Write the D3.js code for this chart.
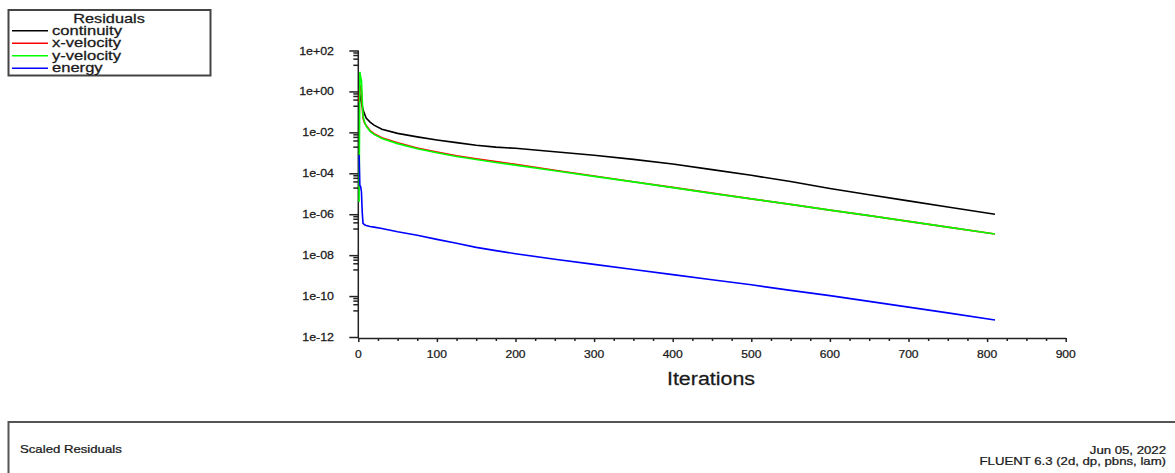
<!DOCTYPE html>
<html>
<head>
<meta charset="utf-8">
<script src="https://cdn.jsdelivr.net/npm/d3@7"></script>
<style>
  body{margin:0;background:#fff;}
  svg{display:block;font-family:"Liberation Sans",Arial,sans-serif;}
</style>
</head>
<body>
<div id="chart"></div>
<script>
// residual histories (log10 of the scaled residual)
const iters=[1,2,3,4,5,6,8,10,15,20,30,50,75,100,125,150,175,200,250,300,350,400,450,500,550,600,650,700,750,810];
const continuity=[0.0,-0.2,-0.4,-0.55,-0.7,-0.9,-1.1,-1.3,-1.5,-1.65,-1.85,-2.05,-2.22,-2.37,-2.5,-2.63,-2.72,-2.78,-2.95,-3.12,-3.32,-3.55,-3.82,-4.1,-4.4,-4.74,-5.05,-5.35,-5.65,-6.0];
const xVelocity=[-0.5,0.3,0.2,0.0,-0.8,-1.3,-1.55,-1.66,-1.91,-2.06,-2.26,-2.51,-2.76,-2.96,-3.14,-3.29,-3.43,-3.56,-3.85,-4.13,-4.41,-4.69,-4.97,-5.25,-5.52,-5.8,-6.07,-6.35,-6.63,-6.97];
const yVelocity=[-5.4,0.95,0.7,0.55,-0.4,-1.2,-1.5,-1.7,-1.95,-2.1,-2.3,-2.55,-2.8,-3.0,-3.18,-3.33,-3.47,-3.6,-3.88,-4.15,-4.42,-4.7,-4.98,-5.25,-5.52,-5.8,-6.07,-6.35,-6.63,-6.97];
const energy=[-3.1,-4.6,-4.65,-4.9,-5.9,-6.45,-6.52,-6.55,-6.6,-6.63,-6.7,-6.86,-7.03,-7.23,-7.42,-7.62,-7.78,-7.93,-8.2,-8.45,-8.7,-8.95,-9.2,-9.45,-9.72,-9.98,-10.26,-10.54,-10.82,-11.17];

const seriesNames=["continuity","x-velocity","y-velocity","energy"];
const seriesColors=["#000000","#ff0000","#00ff00","#0000ff"];
const seriesValues=[continuity,xVelocity,yVelocity,energy];

const yTicks=[1e2,1e0,1e-2,1e-4,1e-6,1e-8,1e-10,1e-12];
const xTicks=[0,100,200,300,400,500,600,700,800,900];

const width=1175,height=473;

const svg=d3.select("#chart").append("svg")
    .attr("width",width)
    .attr("height",height);

const x=d3.scaleLinear().domain([0,900]).range([358.3,1065.7]);
const y=d3.scaleLog().domain([1e-12,1e2]).range([337,50.5]);

// text is drawn a bit wider than the font, like the original
function label(g,px,py,txt,size,k,anchor){
    return g.append("text")
        .attr("transform",`translate(${px},${py}) scale(${k},1)`)
        .attr("text-anchor",anchor||"start")
        .attr("font-size",size)
        .attr("fill","#1a1a1a")
        .attr("stroke","#1a1a1a")
        .attr("stroke-width",0.25)
        .text(txt);
}

function fmtExp(v){
    const e=Math.round(Math.log10(v));
    return "1e"+(e<0?"-":"+")+String(Math.abs(e)).padStart(2,"0");
}

// y axis
const minorY=[];
yTicks.forEach(v=>{
    if(v>1e-12) [0.8,0.6,0.4,0.2].forEach(m=>minorY.push(v*m));
});
svg.append("g")
    .attr("transform",`translate(${x(0)},0)`)
    .call(d3.axisLeft(y).tickValues(minorY).tickSize(5).tickSizeOuter(0).tickFormat(""))
    .call(g=>g.select(".domain").remove());
const yAxis=svg.append("g")
    .attr("transform",`translate(${x(0)},0)`)
    .call(d3.axisLeft(y).tickValues(yTicks).tickSize(9).tickSizeOuter(0).tickFormat(""));
yAxis.select(".domain").attr("d",`M0,${y(1e2)}V${y(1e-12)+1}`);
yTicks.forEach(v=>label(svg,334,y(v)+4,fmtExp(v),11,1.13,"end"));

// x axis
const minorX=d3.range(0,901,25).filter(d=>d%100!==0);
svg.append("g")
    .attr("transform",`translate(0,${y(1e-12)+1})`)
    .call(d3.axisBottom(x).tickValues(minorX).tickSize(3).tickSizeOuter(0).tickFormat(""))
    .call(g=>g.select(".domain").remove());
svg.append("g")
    .attr("transform",`translate(0,${y(1e-12)+1})`)
    .call(d3.axisBottom(x).tickValues(xTicks).tickSize(4).tickSizeOuter(0).tickFormat(""));
xTicks.forEach(v=>label(svg,x(v),358,String(v),11,1.1,"middle"));

svg.selectAll(".domain,.tick line")
    .attr("stroke","#222")
    .attr("stroke-width",1.5);

label(svg,711,385,"Iterations",18,1.19,"middle");

// residual lines
const line=d3.line()
    .x((d,i)=>x(iters[i]))
    .y(d=>y(Math.pow(10,d)));

svg.append("g")
    .selectAll("path")
    .data(seriesValues)
    .join("path")
    .attr("fill","none")
    .attr("stroke",(d,i)=>seriesColors[i])
    .attr("stroke-width",1.6)
    .attr("d",line);

// legend
const legend=svg.append("g");
legend.append("rect")
    .attr("x",8.5).attr("y",10)
    .attr("width",202).attr("height",65.5)
    .attr("fill","#fff")
    .attr("stroke","#444")
    .attr("stroke-width",2);
label(legend,109,23,"Residuals",12,1.36,"middle");
seriesNames.forEach((name,i)=>{
    const ly=30.7+i*12.5;
    legend.append("line")
        .attr("x1",12).attr("x2",48)
        .attr("y1",ly).attr("y2",ly)
        .attr("stroke",seriesColors[i])
        .attr("stroke-width",1.5);
    label(legend,52,ly+4,name,12,1.38);
});

// footer box
svg.append("rect")
    .attr("x",8.5).attr("y",422)
    .attr("width",1180).attr("height",80)
    .attr("fill","none")
    .attr("stroke","#555")
    .attr("stroke-width",2);
label(svg,20,453,"Scaled Residuals",11,1.2);
label(svg,1166,454,"Jun 05, 2022",11,1.2,"end");
label(svg,1166,465,"FLUENT 6.3 (2d, dp, pbns, lam)",11,1.2,"end");
</script>
</body>
</html>
